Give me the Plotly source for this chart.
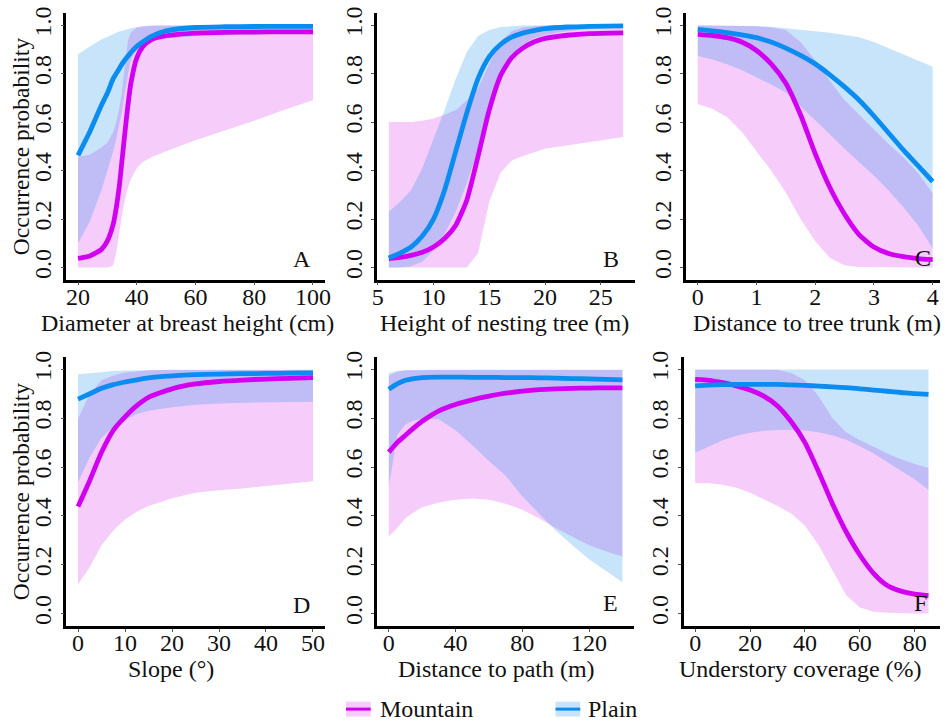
import plotly.graph_objects as go
from plotly.subplots import make_subplots

# ---------------- data ----------------
A_x = [20, 24, 28, 30, 32, 33, 34, 35, 36, 37, 38, 40, 42, 45, 50, 60, 70, 80, 90, 100]
A_mount = [0.038, 0.048, 0.075, 0.11, 0.18, 0.245, 0.33, 0.445, 0.56, 0.67, 0.76, 0.865, 0.91, 0.94, 0.956, 0.967, 0.97, 0.971, 0.972, 0.972]
A_mount_lo = [0, 0, 0, 0, 0.01, 0.06, 0.14, 0.22, 0.28, 0.33, 0.365, 0.41, 0.435, 0.455, 0.48, 0.525, 0.565, 0.605, 0.65, 0.69]
A_mount_hi = [0.456, 0.465, 0.495, 0.515, 0.56, 0.6, 0.655, 0.73, 0.84, 0.935, 0.97, 0.99, 0.995, 0.998, 0.998, 0.998, 0.998, 0.998, 0.998, 0.998]
A_plain = [0.463, 0.56, 0.67, 0.72, 0.78, 0.8, 0.82, 0.84, 0.857, 0.872, 0.887, 0.912, 0.93, 0.953, 0.976, 0.99, 0.993, 0.994, 0.995, 0.995]
A_plain_lo = [0.1, 0.19, 0.32, 0.4, 0.48, 0.53, 0.585, 0.648, 0.73, 0.8, 0.86, 0.9, 0.92, 0.935, 0.945, 0.955, 0.96, 0.962, 0.964, 0.965]
A_plain_hi = [0.88, 0.912, 0.94, 0.952, 0.963, 0.968, 0.973, 0.977, 0.981, 0.985, 0.987, 0.991, 0.994, 0.997, 0.998, 0.999, 0.999, 0.999, 0.999, 0.999]

B_x = [6, 7, 8, 9, 10, 11, 12, 13, 14, 15, 16, 17, 18, 19, 20, 22, 24, 27]
B_mount = [0.037, 0.042, 0.05, 0.063, 0.085, 0.12, 0.175, 0.28, 0.46, 0.65, 0.79, 0.865, 0.905, 0.93, 0.945, 0.958, 0.965, 0.968]
B_mount_lo = [0, 0, 0, 0, 0, 0, 0, 0, 0.06, 0.27, 0.39, 0.44, 0.46, 0.475, 0.49, 0.504, 0.518, 0.538]
B_mount_hi = [0.6, 0.6, 0.6, 0.605, 0.615, 0.63, 0.65, 0.69, 0.74, 0.84, 0.93, 0.975, 0.99, 0.995, 0.998, 0.998, 0.998, 0.998]
B_plain = [0.04, 0.06, 0.085, 0.13, 0.2, 0.32, 0.48, 0.64, 0.78, 0.87, 0.92, 0.95, 0.967, 0.977, 0.985, 0.992, 0.995, 0.997]
B_plain_lo = [0, 0, 0.005, 0.025, 0.07, 0.14, 0.23, 0.35, 0.49, 0.67, 0.8, 0.87, 0.92, 0.945, 0.96, 0.975, 0.985, 0.99]
B_plain_hi = [0.23, 0.27, 0.32, 0.41, 0.53, 0.65, 0.78, 0.89, 0.955, 0.98, 0.992, 0.996, 0.998, 0.998, 0.998, 0.998, 0.998, 0.998]

C_x = [0, 0.25, 0.5, 0.75, 1.0, 1.25, 1.5, 1.75, 2.0, 2.25, 2.5, 2.75, 3.0, 3.25, 3.5, 3.75, 4.0]
C_mount = [0.962, 0.957, 0.948, 0.93, 0.895, 0.84, 0.76, 0.63, 0.47, 0.33, 0.22, 0.135, 0.085, 0.058, 0.045, 0.037, 0.033]
C_mount_lo = [0.675, 0.655, 0.62, 0.56, 0.48, 0.4, 0.31, 0.2, 0.11, 0.04, 0.01, 0.002, 0, 0, 0, 0, 0]
C_mount_hi = [0.998, 0.998, 0.998, 0.997, 0.995, 0.99, 0.98, 0.93, 0.855, 0.77, 0.69, 0.63, 0.57, 0.51, 0.455, 0.39, 0.306]
C_plain = [0.982, 0.976, 0.969, 0.96, 0.948, 0.93, 0.905, 0.875, 0.84, 0.795, 0.745, 0.69, 0.625, 0.555, 0.485, 0.42, 0.355]
C_plain_lo = [0.873, 0.858, 0.838, 0.815, 0.784, 0.755, 0.723, 0.665, 0.607, 0.55, 0.49, 0.435, 0.38, 0.318, 0.25, 0.175, 0.08]
C_plain_hi = [0.999, 0.999, 0.999, 0.998, 0.996, 0.993, 0.988, 0.982, 0.975, 0.968, 0.96, 0.95, 0.93, 0.905, 0.88, 0.855, 0.828]

D_x = [0, 2.5, 5, 7.5, 10, 12.5, 15, 20, 25, 30, 35, 40, 45, 50]
D_mount = [0.438, 0.545, 0.66, 0.75, 0.805, 0.851, 0.885, 0.92, 0.94, 0.95, 0.956, 0.96, 0.963, 0.966]
D_mount_lo = [0.12, 0.19, 0.28, 0.34, 0.385, 0.417, 0.44, 0.472, 0.495, 0.505, 0.512, 0.522, 0.532, 0.542]
D_mount_hi = [0.797, 0.9, 0.955, 0.975, 0.987, 0.993, 0.996, 0.998, 0.998, 0.998, 0.998, 0.998, 0.998, 0.998]
D_plain = [0.878, 0.9, 0.922, 0.937, 0.948, 0.957, 0.965, 0.973, 0.978, 0.98, 0.982, 0.983, 0.984, 0.985]
D_plain_lo = [0.539, 0.64, 0.72, 0.765, 0.79, 0.817, 0.83, 0.845, 0.855, 0.86, 0.863, 0.865, 0.866, 0.867]
D_plain_hi = [0.98, 0.985, 0.99, 0.993, 0.995, 0.996, 0.997, 0.997, 0.997, 0.997, 0.997, 0.997, 0.997, 0.997]

E_x = [0, 5, 10, 15, 20, 30, 40, 50, 60, 70, 80, 90, 100, 110, 120, 130, 140]
E_mount = [0.661, 0.7, 0.73, 0.76, 0.787, 0.83, 0.856, 0.875, 0.89, 0.902, 0.911, 0.917, 0.92, 0.922, 0.923, 0.924, 0.924]
E_mount_lo = [0.316, 0.35, 0.39, 0.415, 0.435, 0.455, 0.466, 0.471, 0.466, 0.45, 0.425, 0.39, 0.35, 0.315, 0.28, 0.255, 0.234]
E_mount_hi = [0.975, 0.99, 0.995, 0.996, 0.997, 0.997, 0.997, 0.997, 0.997, 0.997, 0.997, 0.997, 0.997, 0.997, 0.997, 0.997, 0.997]
E_plain = [0.918, 0.94, 0.955, 0.962, 0.966, 0.968, 0.968, 0.967, 0.967, 0.966, 0.966, 0.965, 0.964, 0.962, 0.961, 0.959, 0.957]
E_plain_lo = [0.52, 0.73, 0.775, 0.79, 0.797, 0.795, 0.75, 0.69, 0.625, 0.565, 0.48, 0.41, 0.34, 0.28, 0.222, 0.175, 0.128]
E_plain_hi = [0.985, 0.993, 0.997, 0.998, 0.998, 0.998, 0.998, 0.998, 0.998, 0.998, 0.998, 0.998, 0.998, 0.998, 0.998, 0.998, 0.998]

F_x = [0, 5, 10, 15, 20, 25, 30, 35, 40, 45, 50, 55, 60, 65, 70, 75, 80, 85]
F_mount = [0.959, 0.955, 0.945, 0.932, 0.915, 0.89, 0.85, 0.785, 0.7, 0.58, 0.45, 0.335, 0.24, 0.165, 0.115, 0.092, 0.08, 0.074]
F_mount_lo = [0.534, 0.533, 0.527, 0.515, 0.495, 0.468, 0.44, 0.41, 0.36, 0.28, 0.18, 0.075, 0.025, 0.008, 0.003, 0, 0, 0]
F_mount_hi = [0.998, 0.998, 0.998, 0.998, 0.998, 0.998, 0.998, 0.985, 0.955, 0.89, 0.8, 0.742, 0.71, 0.683, 0.655, 0.632, 0.612, 0.596]
F_plain = [0.932, 0.935, 0.937, 0.938, 0.938, 0.938, 0.938, 0.936, 0.934, 0.931, 0.928, 0.925, 0.92, 0.915, 0.91, 0.905, 0.9, 0.897]
F_plain_lo = [0.658, 0.685, 0.71, 0.728, 0.74, 0.748, 0.751, 0.752, 0.749, 0.742, 0.73, 0.712, 0.685, 0.655, 0.62, 0.585, 0.55, 0.507]
F_plain_hi = [0.999, 0.999, 0.999, 0.999, 0.999, 0.999, 0.999, 0.999, 0.999, 0.999, 0.999, 0.999, 0.999, 0.999, 0.999, 0.999, 0.999, 0.999]

x_titles = ["Diameter at breast height (cm)", "Height of nesting tree (m)", "Distance to tree trunk (m)",
            "Slope (°)", "Distance to path (m)", "Understory coverage (%)"]
letters = ["A", "B", "C", "D", "E", "F"]
x_ticks = [[20, 40, 60, 80, 100], [5, 10, 15, 20, 25], [0, 1, 2, 3, 4],
           [0, 10, 20, 30, 40, 50], [0, 40, 80, 120], [0, 20, 40, 60, 80]]
y_ticks = [0, 0.2, 0.4, 0.6, 0.8, 1.0]
series_names = ["Mountain", "Plain"]

panels = [
    (A_x, A_mount, A_mount_lo, A_mount_hi, A_plain, A_plain_lo, A_plain_hi),
    (B_x, B_mount, B_mount_lo, B_mount_hi, B_plain, B_plain_lo, B_plain_hi),
    (C_x, C_mount, C_mount_lo, C_mount_hi, C_plain, C_plain_lo, C_plain_hi),
    (D_x, D_mount, D_mount_lo, D_mount_hi, D_plain, D_plain_lo, D_plain_hi),
    (E_x, E_mount, E_mount_lo, E_mount_hi, E_plain, E_plain_lo, E_plain_hi),
    (F_x, F_mount, F_mount_lo, F_mount_hi, F_plain, F_plain_lo, F_plain_hi),
]

# ---------------- styling / layout ----------------
W, H = 946, 723
FONT = "Liberation Serif"
TXT = "#111111"
M_LINE = "#D200F0"
P_LINE = "#0A8CF0"
M_FILL = "rgba(205,0,230,0.2)"
P_FILL = "rgba(5,132,232,0.22)"

# pixel geometry of each panel: (left, right, top, bottom) and x range
geom = [
    (62, 323.5, 7, 276, [16, 104]),
    (376.5, 637.3, 7, 276, [4.95, 28.05]),
    (689, 946, 7, 276, [-0.2, 4.125]),
    (62, 323.5, 354, 625, [-2.5, 52.5]),
    (376.5, 636.5, 354, 625, [-7, 147]),
    (686.5, 946, 354, 625, [-4.25, 89.2]),
]
title_cx = [185, 505, 822, 168, 497, 805]
letter_pos = [(0.912, 0.078), (0.909, 0.078), (0.934, 0.083),
              (0.912, 0.079), (0.909, 0.085), (0.923, 0.085)]

fig = make_subplots(rows=2, cols=3)

for i, (xs, m, mlo, mhi, p, plo, phi) in enumerate(panels):
    r, c = i // 3 + 1, i % 3 + 1
    fig.add_trace(go.Scatter(x=xs + xs[::-1], y=mhi + mlo[::-1], fill="toself", fillcolor=M_FILL,
                             line=dict(width=0), mode="lines", hoverinfo="skip", showlegend=False), row=r, col=c)
    fig.add_trace(go.Scatter(x=xs + xs[::-1], y=phi + plo[::-1], fill="toself", fillcolor=P_FILL,
                             line=dict(width=0), mode="lines", hoverinfo="skip", showlegend=False), row=r, col=c)
    fig.add_trace(go.Scatter(x=xs, y=m, mode="lines", line=dict(color=M_LINE, width=4.8, shape="spline", smoothing=0.6),
                             name=series_names[0], showlegend=False), row=r, col=c)
    fig.add_trace(go.Scatter(x=xs, y=p, mode="lines", line=dict(color=P_LINE, width=4.8, shape="spline", smoothing=0.6),
                             name=series_names[1], showlegend=False), row=r, col=c)

annotations = []
shapes = []
for i, (l, rr, t, b, xr) in enumerate(geom):
    sfx = "" if i == 0 else str(i + 1)
    fig.layout["xaxis" + sfx].update(
        domain=[l / W, min(rr / W, 1.0)], range=xr, tickvals=x_ticks[i],
        showline=True, linecolor="black", linewidth=2.5, showgrid=False, zeroline=False,
        ticks="outside", ticklen=3, tickcolor="#555", tickwidth=1, ticklabelstandoff=-9,
        tickfont=dict(family=FONT, size=24, color=TXT), anchor="y" + sfx)
    fig.layout["yaxis" + sfx].update(
        domain=[1 - b / H, 1 - t / H], range=[-0.05, 1.05], tickvals=y_ticks, tickformat=".1f",
        showline=True, linecolor="black", linewidth=2.5, showgrid=False, zeroline=False,
        ticks="outside", ticklen=3, tickcolor="#555", tickwidth=1, tickangle=-90,
        tickfont=dict(family=FONT, size=24, color=TXT), anchor="x" + sfx)
    # x-axis title
    ty = 320 if i < 3 else 669
    annotations.append(dict(text=x_titles[i], x=title_cx[i] / W, y=1 - ty / H, xref="paper", yref="paper",
                            xanchor="center", yanchor="middle", showarrow=False,
                            font=dict(family=FONT, size=24, color=TXT)))
    # panel letter
    lx, ly = letter_pos[i]
    annotations.append(dict(text=letters[i], x=lx, y=ly, xref="x" + sfx + " domain", yref="y" + sfx + " domain",
                            xanchor="center", yanchor="middle", showarrow=False,
                            font=dict(family=FONT, size=24, color=TXT)))

# y-axis titles
for cy in [141.5, 489.5]:
    annotations.append(dict(text="Occurrence probability", x=17 / W, y=1 - cy / H, xref="paper", yref="paper",
                            xanchor="center", yanchor="middle", textangle=-90, showarrow=False,
                            font=dict(family=FONT, size=23.5, color=TXT)))

# legend (drawn as keys + labels)
legend_items = [(series_names[0], M_FILL, M_LINE, 345, 377), (series_names[1], P_FILL, P_LINE, 557, 588)]
for name, fillc, linec, x0, tx in legend_items:
    shapes.append(dict(type="rect", xref="paper", yref="paper", x0=x0 / W, x1=(x0 + 25) / W,
                       y0=1 - 716.5 / H, y1=1 - 701.5 / H, fillcolor=fillc, line=dict(width=0)))
    shapes.append(dict(type="line", xref="paper", yref="paper", x0=x0 / W, x1=(x0 + 25) / W,
                       y0=1 - 709 / H, y1=1 - 709 / H, line=dict(color=linec, width=3)))
    annotations.append(dict(text=name, x=tx / W, y=1 - 708.5 / H, xref="paper", yref="paper",
                            xanchor="left", yanchor="middle", showarrow=False,
                            font=dict(family=FONT, size=24, color=TXT)))

fig.update_layout(
    width=W, height=H, margin=dict(l=0, r=0, t=0, b=0),
    paper_bgcolor="white", plot_bgcolor="white", showlegend=False,
    annotations=annotations, shapes=shapes,
    font=dict(family=FONT, size=24, color=TXT),
)

fig.write_html(
    "out.html",
    config={"displayModeBar": False},
    post_script="document.body.style.margin='0px';document.body.style.overflow='hidden';",
)
